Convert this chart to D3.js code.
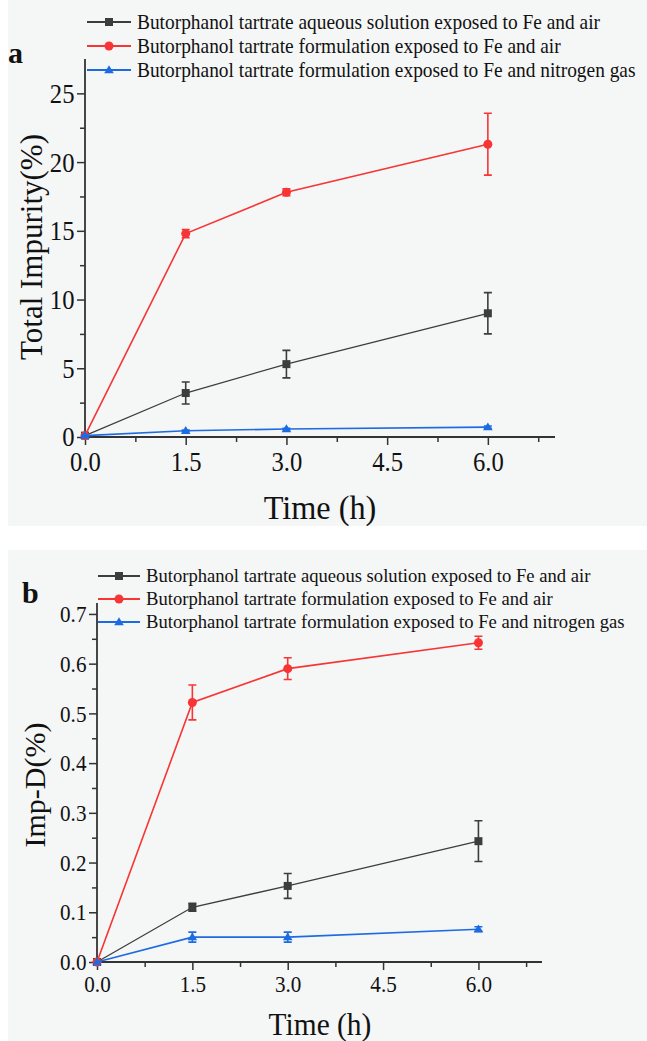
<!DOCTYPE html>
<html>
<head>
<meta charset="utf-8">
<script src="https://cdn.jsdelivr.net/npm/d3@7"></script>
<style>
  html, body { margin: 0; padding: 0; background: #fff; }
  svg { display: block; }
</style>
</head>
<body>
<div id="chart"></div>
<script>
// time points (h)
var times = [0, 1.5, 3, 6];
var seriesNames = [
  'Butorphanol tartrate aqueous solution exposed to Fe and air',
  'Butorphanol tartrate formulation exposed to Fe and air',
  'Butorphanol tartrate formulation exposed to Fe and nitrogen gas'
];
var seriesColors = ['#3d3d3d', '#f73535', '#1d6be3'];
var seriesShapes = ['square', 'circle', 'triangle'];

// panel a: total impurity (%)
var totalAq = [0.1, 3.2, 5.3, 9.0];
var totalAqErr = [0.05, 0.8, 1.0, 1.5];
var totalForm = [0.1, 14.8, 17.8, 21.3];
var totalFormErr = [0.05, 0.3, 0.25, 2.25];
var totalN2 = [0.1, 0.45, 0.58, 0.72];
var totalN2Err = [0.05, 0.05, 0.05, 0.08];
var yTicksA = [0, 5, 10, 15, 20, 25];

// panel b: Imp-D (%)
var impDAq = [0, 0.11, 0.153, 0.243];
var impDAqErr = [0, 0.008, 0.025, 0.041];
var impDForm = [0, 0.522, 0.59, 0.642];
var impDFormErr = [0, 0.035, 0.022, 0.013];
var impDN2 = [0, 0.05, 0.05, 0.066];
var impDN2Err = [0, 0.01, 0.01, 0.005];
var yTicksB = [0, 0.1, 0.2, 0.3, 0.4, 0.5, 0.6, 0.7];

var xTicks = [0, 1.5, 3, 4.5, 6];

var FONT = '"Liberation Serif", "Times New Roman", serif';
var SX = 0.88;

var svg = d3.select('#chart').append('svg')
  .attr('width', 647).attr('height', 1041)
  .attr('font-family', FONT);

svg.append('rect').attr('x', 8).attr('y', 0).attr('width', 639).attr('height', 526).attr('fill', '#f5f6f6');
svg.append('rect').attr('x', 8).attr('y', 550).attr('width', 639).attr('height', 491).attr('fill', '#f5f6f6');

function txt(g, x, y, s, size, anchor, sx, weight) {
  return g.append('text')
    .attr('transform', 'translate(' + x + ',' + y + ') scale(' + (sx || SX) + ',1)')
    .attr('text-anchor', anchor || 'start')
    .attr('font-size', size)
    .attr('font-weight', weight || 'normal')
    .attr('fill', '#111')
    .text(s);
}

function marker(g, shape, x, y, color, s) {
  if (shape === 'square') {
    g.append('rect').attr('x', x - s / 2).attr('y', y - s / 2).attr('width', s).attr('height', s).attr('fill', color);
  } else if (shape === 'circle') {
    g.append('circle').attr('cx', x).attr('cy', y).attr('r', s / 2 + 0.5).attr('fill', color);
  } else {
    var h = s * 0.95;
    g.append('path')
      .attr('d', 'M' + x + ',' + (y - h * 0.62) + 'L' + (x + s * 0.6) + ',' + (y + h * 0.42) + 'L' + (x - s * 0.6) + ',' + (y + h * 0.42) + 'Z')
      .attr('fill', color);
  }
}

function drawPanel(cfg) {
  var g = svg.append('g');
  var x = d3.scaleLinear().domain([0, 7]).range([cfg.left, cfg.right]);
  var y = d3.scaleLinear().domain([0, cfg.ymax]).range([cfg.bottom, cfg.top]);

  // minor ticks
  var minorX = d3.range(0.75, 7, 1.5);
  var minorY = cfg.yMinor;
  g.append('g').attr('transform', 'translate(0,' + cfg.bottom + ')')
    .call(d3.axisBottom(x).tickValues(minorX).tickSize(5).tickFormat(''))
    .call(function (a) { a.select('.domain').remove(); });
  g.append('g').attr('transform', 'translate(' + cfg.left + ',0)')
    .call(d3.axisLeft(y).tickValues(minorY).tickSize(5).tickFormat(''))
    .call(function (a) { a.select('.domain').remove(); });

  // major axes
  var ax = g.append('g').attr('transform', 'translate(0,' + cfg.bottom + ')')
    .call(d3.axisBottom(x).tickValues(xTicks).tickSizeInner(8).tickSizeOuter(0).tickPadding(cfg.xPad).tickFormat(d3.format('.1f')));
  var ay = g.append('g').attr('transform', 'translate(' + cfg.left + ',0)')
    .call(d3.axisLeft(y).tickValues(cfg.yTicks).tickSizeInner(8).tickSizeOuter(0).tickPadding(cfg.yPad).tickFormat(cfg.yFormat));
  [ax, ay].forEach(function (a) {
    a.attr('font-family', FONT);
    a.select('.domain').attr('stroke', '#333').attr('stroke-width', 1.8);
    a.selectAll('text').attr('font-family', FONT).attr('font-size', cfg.tickFont).attr('fill', '#111')
      .attr('transform', 'scale(' + SX + ',1)');
  });
  g.selectAll('line').attr('stroke', '#333').attr('stroke-width', 1.5);
  // x axis extends to the end of range; y axis to top
  ax.select('.domain').attr('d', 'M' + cfg.left + ',0H' + cfg.right);
  ay.select('.domain').attr('d', 'M0,' + cfg.bottom + 'V' + cfg.top);

  var line = d3.line().x(function (d) { return x(d.t); }).y(function (d) { return y(d.v); });

  cfg.series.forEach(function (s, i) {
    var pts = times.map(function (t, k) { return { t: t, v: s.vals[k], e: s.errs[k] }; });
    var col = seriesColors[i];
    g.append('path').datum(pts).attr('d', line).attr('fill', 'none')
      .attr('stroke', col).attr('stroke-width', i === 0 ? 1.3 : 1.6);
    pts.forEach(function (p) {
      if (p.e > 0) {
        var x0 = x(p.t), y1 = y(p.v + p.e), y2 = y(p.v - p.e);
        g.append('path')
          .attr('d', 'M' + x0 + ',' + y1 + 'V' + y2 + 'M' + (x0 - 4) + ',' + y1 + 'H' + (x0 + 4) + 'M' + (x0 - 4) + ',' + y2 + 'H' + (x0 + 4))
          .attr('stroke', col).attr('stroke-width', 1.6).attr('fill', 'none');
      }
    });
    pts.forEach(function (p) { marker(g, seriesShapes[i], x(p.t), y(p.v), col, 8); });
  });

  // legend
  seriesNames.forEach(function (name, i) {
    var ly = cfg.legY + i * cfg.legStep;
    g.append('line').attr('x1', cfg.legX).attr('x2', cfg.legX + cfg.legLen).attr('y1', ly).attr('y2', ly)
      .attr('stroke', seriesColors[i]).attr('stroke-width', 1.8);
    marker(g, seriesShapes[i], cfg.legX + cfg.legLen / 2, ly, seriesColors[i], 8);
    txt(g, cfg.legX + cfg.legLen + 6, ly + cfg.legFont * 0.33, name, cfg.legFont, 'start', cfg.legSx);
  });

  // panel letter and titles
  txt(g, cfg.letterX, cfg.letterY, cfg.letter, 30, 'start', 1, 'bold');
  txt(g, 320, cfg.xTitleY, 'Time (h)', cfg.xTitleFont, 'middle', 0.95);
  g.append('text')
    .attr('transform', 'translate(' + cfg.yTitleX + ',' + cfg.yTitleY + ') rotate(-90)')
    .attr('text-anchor', 'middle').attr('font-size', cfg.yTitleFont).attr('fill', '#111')
    .text(cfg.yTitle);
}

drawPanel({
  left: 85, right: 555, top: 59, bottom: 437, ymax: 27.5,
  yTicks: yTicksA, yMinor: [2.5, 7.5, 12.5, 17.5, 22.5], yFormat: d3.format('d'),
  tickFont: 28, xPad: 6, yPad: 4,
  series: [
    { vals: totalAq, errs: totalAqErr },
    { vals: totalForm, errs: totalFormErr },
    { vals: totalN2, errs: totalN2Err }
  ],
  legX: 87, legLen: 44, legY: 22, legStep: 24, legFont: 20, legSx: 0.97,
  letter: 'a', letterX: 8, letterY: 63,
  xTitleY: 519, xTitleFont: 34,
  yTitle: 'Total Impurity(%)', yTitleX: 42, yTitleY: 247, yTitleFont: 31
});

drawPanel({
  left: 97, right: 542, top: 603, bottom: 962, ymax: 0.722,
  yTicks: yTicksB, yMinor: [0.05, 0.15, 0.25, 0.35, 0.45, 0.55, 0.65], yFormat: d3.format('.1f'),
  tickFont: 24, xPad: 5, yPad: 4,
  series: [
    { vals: impDAq, errs: impDAqErr },
    { vals: impDForm, errs: impDFormErr },
    { vals: impDN2, errs: impDN2Err }
  ],
  legX: 98, legLen: 42, legY: 576, legStep: 23, legFont: 19, legSx: 0.98,
  letter: 'b', letterX: 22, letterY: 603,
  xTitleY: 1035, xTitleFont: 31,
  yTitle: 'Imp-D(%)', yTitleX: 45, yTitleY: 785, yTitleFont: 30
});
</script>
</body>
</html>
